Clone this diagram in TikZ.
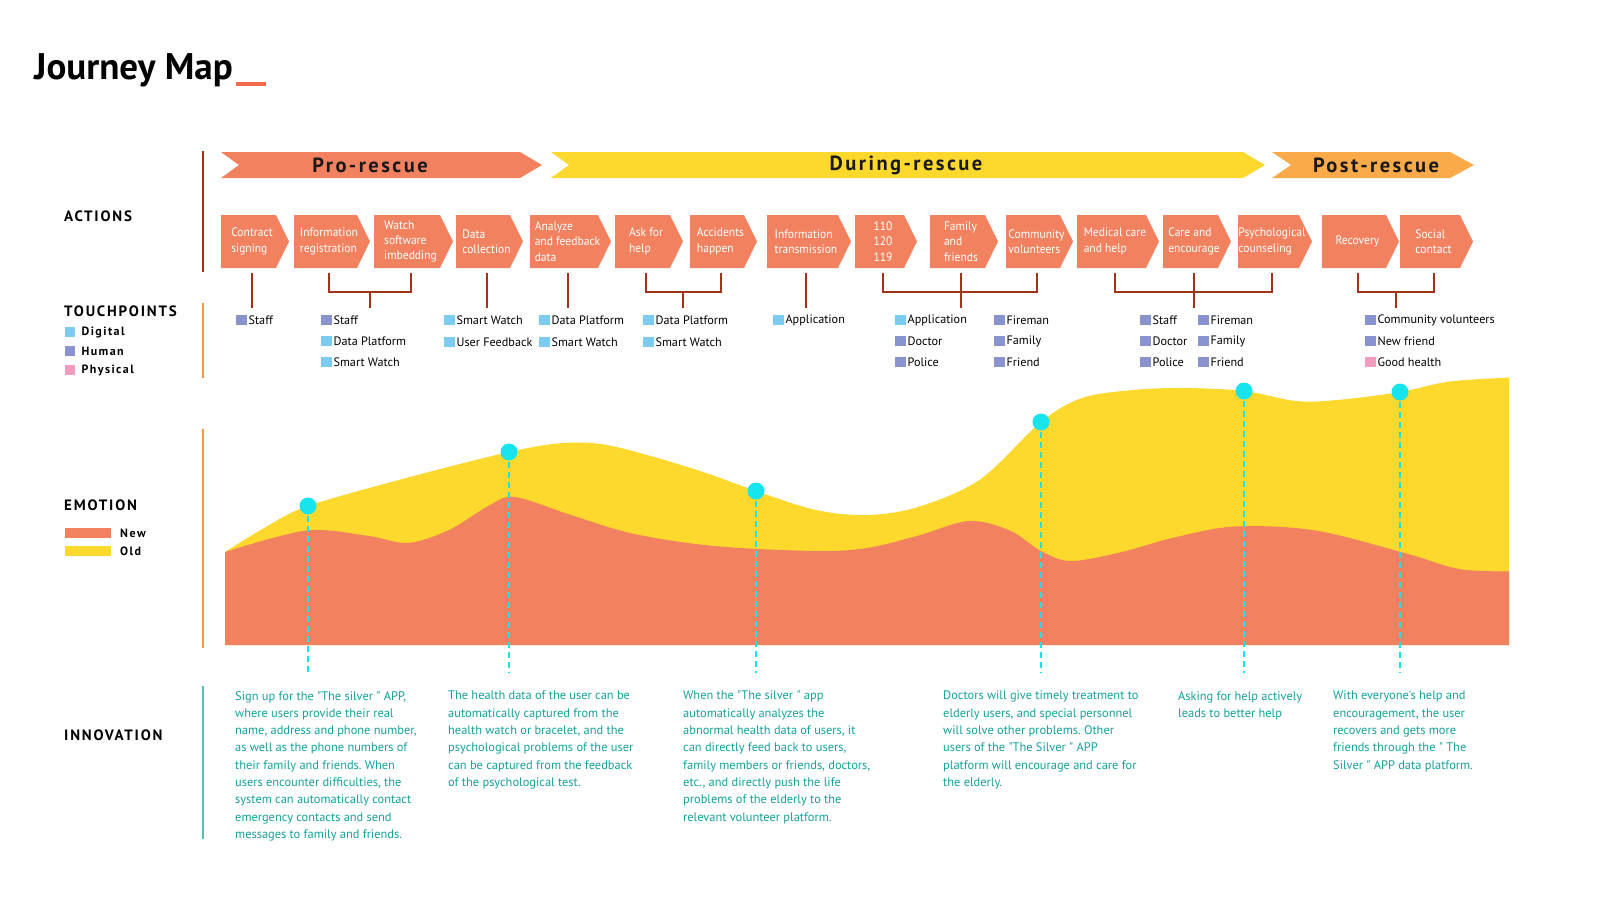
\documentclass[tikz,border=0pt]{standalone}
\usepackage{fontspec}
\setmainfont{PT Sans}
\newfontfamily\spacedfont[LetterSpace=12]{PT Sans}
\newfontfamily\boxfont[FakeStretch=0.94]{PT Sans}
\newfontfamily\plainfont{PT Sans}
\usepackage{xcolor}
\usepackage{tikz}
\usetikzlibrary{calc}
\usetikzlibrary{positioning}

\definecolor{salmon}{HTML}{F2825F}
\definecolor{sunyellow}{HTML}{FDD92E}
\definecolor{postorange}{HTML}{FBAA4A}
\definecolor{bracketred}{HTML}{A3321B}
\definecolor{lineorange}{HTML}{F39A3C}
\definecolor{innoteal}{HTML}{13A09C}
\definecolor{innoline}{HTML}{5BBDB8}
\definecolor{dotcyan}{HTML}{17E5EE}
\definecolor{digital}{HTML}{7CCBF1}
\definecolor{human}{HTML}{8A93CF}
\definecolor{physical}{HTML}{F19BBF}
\definecolor{titlered}{HTML}{F26A4B}

\tikzset{acttext/.style={text=white,align=left,inner sep=0pt,font=\boxfont\fontsize{12.3}{15.3}\selectfont}}
\tikzset{phasetext/.style={inner sep=0pt,text=black!90,font=\spacedfont\bfseries\fontsize{20.5}{22}\selectfont}}
\tikzset{headlabel/.style={anchor=west,inner sep=0pt,font=\spacedfont\bfseries\fontsize{15}{17}\selectfont}}
\tikzset{legendtext/.style={inner sep=0pt,font=\spacedfont\bfseries\fontsize{12}{14}\selectfont}}
\tikzset{tpsq/.style={anchor=west,minimum size=10.5pt,inner sep=0pt}}
\tikzset{tptext/.style={inner sep=0pt,font=\fontsize{12.2}{14}\selectfont}}
\tikzset{bracket/.style={draw=bracketred,line width=2pt}}
\tikzset{innotext/.style={anchor=north west,align=left,inner sep=0pt,text=innoteal,font=\plainfont\frenchspacing\fontsize{12.4}{17.3}\selectfont}}
\tikzset{dot/.style={circle,fill=dotcyan,minimum size=17pt,inner sep=0pt}}
\tikzset{dashline/.style={draw=dotcyan,line width=1.5pt,dash pattern=on 6pt off 4pt}}

% action box: name, left edge, tip, text
\newcommand{\actbox}[4]{%
	\fill[salmon] (#2,215) -- (#3-13,215) -- (#3,241.5) -- (#3-13,268) -- (#2,268) -- cycle;
	\node[acttext] (#1) at ({(#2+#3-6)/2},241.5) {#4};}
% touchpoint: name, kind, position, text
\newcommand{\touch}[4]{%
	\node[tpsq,fill=#2] (#1) at (#3) {};
	\node[tptext,right=1.5pt of #1] (#1x) {#4};}

\begin{document}
\begin{tikzpicture}[x=1pt,y=-1pt]
	\useasboundingbox (0,0) rectangle (1600,900);

	\node[anchor=base west,inner sep=0pt,font=\bfseries\fontsize{37}{42}\selectfont] (title) at (34,79) {Journey Map};
	\fill[titlered] (236,81.5) rectangle (266,86);

	% phases
	\fill[salmon] (221,152) -- (520,152) -- (542,165) -- (520,178) -- (221,178) -- (239,165) -- cycle;
	\fill[sunyellow] (551,152) -- (1243,152) -- (1265,165) -- (1243,178) -- (551,178) -- (569,165) -- cycle;
	\fill[postorange] (1272,152) -- (1450,152) -- (1474,165) -- (1450,178) -- (1272,178) -- (1291,165) -- cycle;
	\node[phasetext] (pro) at (370,165) {Pro-rescue};
	\node[phasetext] (during) at (906,165) {During-rescue};
	\node[phasetext] (post) at (1376,165) {Post-rescue};

	% section labels
	\node[headlabel] (actions) at (64,216) {ACTIONS};
	\node[headlabel] (touchpoints) at (64,311) {TOUCHPOINTS};
	\node[headlabel] (emotion) at (64,505) {EMOTION};
	\node[headlabel] (innovation) at (64,735) {INNOVATION};
	\draw[bracketred,line width=2pt] (203,151) -- (203,272);
	\draw[lineorange,line width=2pt] (203,303) -- (203,378);
	\draw[lineorange,line width=2pt] (203,429) -- (203,648);
	\draw[innoline,line width=2pt] (203,686) -- (203,839);

	\node[tpsq,fill=digital] (kd) at (64.5,332) {};
	\node[legendtext,right=6pt of kd] (kdx) {Digital};
	\node[tpsq,fill=human] (kh) at (64.5,351) {};
	\node[legendtext,right=6pt of kh] (khx) {Human};
	\node[tpsq,fill=physical] (kp) at (64.5,370) {};
	\node[legendtext,right=6pt of kp] (kpx) {Physical};
	\fill[salmon] (65,528) rectangle (110.5,538);
	\fill[sunyellow] (65,545.5) rectangle (110.5,555.5);
	\node[legendtext,anchor=west] (knew) at (120,533) {New};
	\node[legendtext,anchor=west] (kold) at (120,551) {Old};

	% actions
	\actbox{b1}{221}{289}{Contract\\signing}
	\actbox{b2}{294}{370}{Information\\registration}
	\actbox{b3}{374}{453}{Watch\\software\\imbedding}
	\actbox{b4}{456}{523}{Data\\collection}
	\actbox{b5}{530}{611}{Analyze\\and feedback\\data}
	\actbox{b6}{615}{683}{Ask for\\help}
	\actbox{b7}{690}{757}{Accidents\\happen}
	\actbox{b8}{767}{851}{Information\\transmission}
	\actbox{b9}{855}{917}{\hfil110\hfil\\\hfil120\hfil\\\hfil119\hfil}
	\actbox{b10}{930}{998}{Family\\and\\friends}
	\actbox{b11}{1006}{1073}{Community\\volunteers}
	\actbox{b12}{1077}{1159}{Medical care\\and help}
	\actbox{b13}{1163}{1231}{Care and\\encourage}
	\actbox{b14}{1238}{1312}{Psychological\\counseling}
	\actbox{b15}{1322}{1399}{Recovery}
	\actbox{b16}{1400}{1473}{Social\\contact}

	% brackets
	\draw[bracket] ([yshift=-31.5pt]b1.center) -- ([yshift=-66.5pt]b1.center);
	\draw[bracket] ([yshift=-31.5pt]b2.center) |- ([yshift=-50.5pt]b3.center) -- ([yshift=-31.5pt]b3.center);
	\draw[bracket] ($(b2.center)!.5!(b3.center)+(0,50.5)$) -- ++(0,16);
	\draw[bracket] ([yshift=-31.5pt]b4.center) -- ([yshift=-66.5pt]b4.center);
	\draw[bracket] ([yshift=-31.5pt]b5.center) -- ([yshift=-66.5pt]b5.center);
	\draw[bracket] ([yshift=-31.5pt]b6.center) |- ([yshift=-50.5pt]b7.center) -- ([yshift=-31.5pt]b7.center);
	\draw[bracket] ($(b6.center)!.5!(b7.center)+(0,50.5)$) -- ++(0,16);
	\draw[bracket] ([yshift=-31.5pt]b8.center) -- ([yshift=-66.5pt]b8.center);
	\draw[bracket] ([yshift=-31.5pt]b9.center) |- ([yshift=-50.5pt]b11.center) -- ([yshift=-31.5pt]b11.center);
	\draw[bracket] ([yshift=-31.5pt]b10.center) -- ([yshift=-66.5pt]b10.center);
	\draw[bracket] ([yshift=-31.5pt]b12.center) |- ([yshift=-50.5pt]b14.center) -- ([yshift=-31.5pt]b14.center);
	\draw[bracket] ([yshift=-31.5pt]b13.center) -- ([yshift=-66.5pt]b13.center);
	\draw[bracket] ([yshift=-31.5pt]b15.center) |- ([yshift=-50.5pt]b16.center) -- ([yshift=-31.5pt]b16.center);
	\draw[bracket] ($(b15.center)!.5!(b16.center)+(0,50.5)$) -- ++(0,16);

	% touchpoints
	\touch{ta}{human}{236,320}{Staff}
	\touch{tb}{human}{321,320}{Staff}
	\touch{tc}{digital}{321,341}{Data Platform}
	\touch{td}{digital}{321,362}{Smart Watch}
	\touch{te}{digital}{444,320}{Smart Watch}
	\touch{tf}{digital}{444,342}{User Feedback}
	\touch{tg}{digital}{539,320}{Data Platform}
	\touch{th}{digital}{539,342}{Smart Watch}
	\touch{ti}{digital}{643,320}{Data Platform}
	\touch{tj}{digital}{643,342}{Smart Watch}
	\touch{tk}{digital}{773,320}{Application}
	\touch{tl}{digital}{895,320}{Application}
	\touch{tm}{human}{895,341}{Doctor}
	\touch{tn}{human}{895,362}{Police}
	\touch{to}{human}{994,320}{Fireman}
	\touch{tp}{human}{994,341}{Family}
	\touch{tq}{human}{994,362}{Friend}
	\touch{tr}{human}{1140,320}{Staff}
	\touch{ts}{human}{1140,341}{Doctor}
	\touch{tt}{human}{1140,362}{Police}
	\touch{tu}{human}{1198,320}{Fireman}
	\touch{tv}{human}{1198,341}{Family}
	\touch{tw}{human}{1198,362}{Friend}
	\touch{tx}{human}{1365,320}{Community volunteers}
	\touch{ty}{human}{1365,341}{New friend}
	\touch{tz}{physical}{1365,362}{Good health}

	% emotion curves
	\fill[sunyellow] plot[smooth,tension=.55] coordinates {(225,552) (265,527.5) (308,506) (408,477.5) (509,452) (564,443) (612,446) (694,469) (756,491) (816,510) (867,515) (918,507) (980,479.5) (1041,422) (1082,398) (1133,390) (1184,388) (1244,391) (1296,401) (1337,400) (1400,392) (1449,381.6) (1509,377.6)} -- (1509,645) -- (225,645) -- cycle;
	\fill[salmon] plot[smooth,tension=.55] coordinates {(225,552) (306,530.6) (367,535.7) (408,542.9) (449,530) (490,505) (515,497) (571,515) (633,533.7) (714,546) (816,551) (867,548) (918,535.7) (969,521) (1010,530.6) (1041,551) (1071,561) (1122,552) (1173,537.8) (1235,526.5) (1316,530.6) (1408,554) (1459,569) (1509,571.4)} -- (1509,645) -- (225,645) -- cycle;

	\coordinate (e1b) at (308,673);
	\coordinate (e2b) at (509,673);
	\coordinate (e3b) at (756,673);
	\coordinate (e4b) at (1041,673);
	\coordinate (e5b) at (1244,673);
	\coordinate (e6b) at (1400,673);
	\draw[dashline] (308,506) -- (e1b);
	\draw[dashline] (509,452) -- (e2b);
	\draw[dashline] (756,491) -- (e3b);
	\draw[dashline] (1041,422) -- (e4b);
	\draw[dashline] (1244,391) -- (e5b);
	\draw[dashline] (1400,392) -- (e6b);
	\node[dot] (e1) at (308,506) {};
	\node[dot] (e2) at (509,452) {};
	\node[dot] (e3) at (756,491) {};
	\node[dot] (e4) at (1041,422) {};
	\node[dot] (e5) at (1244,391) {};
	\node[dot] (e6) at (1400,392) {};

	% innovation
	\node[innotext] (i1) at (235,691) {Sign up for the "The silver " APP,\\where users provide their real\\name, address and phone number,\\as well as the phone numbers of\\their family and friends. When\\users encounter difficulties, the\\system can automatically contact\\emergency contacts and send\\messages to family and friends.};
	\node[innotext] (i2) at (448,691) {The health data of the user can be\\automatically captured from the\\health watch or bracelet, and the\\psychological problems of the user\\can be captured from the feedback\\of the psychological test.};
	\node[innotext] (i3) at (683,691) {When the "The silver " app\\automatically analyzes the\\abnormal health data of users, it\\can directly feed back to users,\\family members or friends, doctors,\\etc., and directly push the life\\problems of the elderly to the\\relevant volunteer platform.};
	\node[innotext] (i4) at (943,691) {Doctors will give timely treatment to\\elderly users, and special personnel\\will solve other problems. Other\\users of the "The Silver " APP\\platform will encourage and care for\\the elderly.};
	\node[innotext] (i5) at (1178,691) {Asking for help actively\\leads to better help};
	\node[innotext] (i6) at (1333,691) {With everyone's help and\\encouragement, the user\\recovers and gets more\\friends through the " The\\Silver " APP data platform.};
\end{tikzpicture}
\end{document}
